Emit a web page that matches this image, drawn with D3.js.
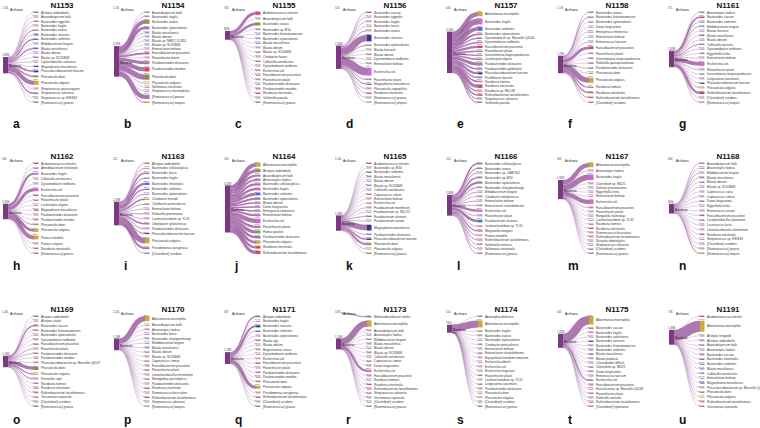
<!DOCTYPE html>
<html><head><meta charset="utf-8">
<script src="https://cdn.jsdelivr.net/npm/d3@7"></script>
<style>body{margin:0;background:#fff}svg{display:block;font-family:"Liberation Sans",Arial,sans-serif}</style>
</head><body><svg id="c" width="760" height="428"></svg>
<script>
const sampleIds = ["N1153","N1154","N1155","N1156","N1157","N1158","N1161","N1162","N1163","N1164","N1165","N1166","N1167","N1168","N1169","N1170","N1171","N1173","N1174","N1175","N1191"];
const panelLetters = ["a","b","c","d","e","f","g","h","i","j","k","l","m","n","o","p","q","r","s","t","u"];
const archaeaReads = [1100,1110,700,524,434,1170,471,160,241,103,1100,154,304,864,1440,2250,337,147000,102,405,736];
const archaeaSpecies = ["Methanobrevibacter smithii"];

// species per sample (reads in thousands)
const speciesNames = [
["Alistipes onderdonkii","Anaerobutyricum hallii","Bacteroides eggerthii","Bacteroides fragilis","Bacteroides ovatus","Bacteroides stercoris","Bacteroides uniformis","Bifidobacterium longum","Blautia massiliensis","Blautia obeum","Blautia sp. SC05B48","Ligilactobacillus salivarius","Megasphaera massiliensis","Phascolarctobacterium faecium","Phocaeicola dorei","Phocaeicola vulgatus","Streptococcus parasanguinis","Streptococcus salivarius","Streptococcus sp. HSISS4","[Ruminococcus] gnavus"],
["Anaerobutyricum hallii","Bacteroides fragilis","Bacteroides ovatus","Bacteroides xylanisolvens","Blautia massiliensis","Blautia obeum","Blautia sp. NBRC 113351","Blautia sp. SC05B48","Enterocloster bolteae","Faecalibacterium prausnitzii","Flavonifractor plautii","Parabacteroides distasonis","Parabacteroides merdae","Phocaeicola dorei","Phocaeicola vulgatus","Sellimonas intestinalis","Streptococcus thermophilus","[Ruminococcus] gnavus","[Ruminococcus] torques"],
["Acidaminococcus intestini","Anaerobutyricum hallii","Bacteroides ovatus","Bacteroides sp. M10","Bacteroides thetaiotaomicron","Bacteroides xylanisolvens","Blautia massiliensis","Blautia obeum","Blautia sp. SC05B48","Citrobacter koseri","Collinsella aerofaciens","Dysosmobacter welbionis","Escherichia coli","Faecalibacterium prausnitzii","Flavonifractor plautii","Parabacteroides distasonis","Parabacteroides merdae","Roseburia intestinalis","Veillonella parvula","[Ruminococcus] gnavus"],
["Bacteroides caccae","Bacteroides eggerthii","Bacteroides fragilis","Bacteroides faecis","Bacteroides ovatus","Bacteroides stercoris","Bacteroides xylanisolvens","Blautia hansenii","Blautia obeum","Dysosmobacter welbionis","Enterocloster bolteae","Escherichia coli","Flavonifractor plautii","Megasphaera massiliensis","Phocaeicola coprophilus","Roseburia intestinalis","[Ruminococcus] gnavus","[Ruminococcus] torques"],
["Akkermansia muciniphila","Bacteroides fragilis","Bacteroides uniformis","Bacteroides xylanisolvens","Dysosmobacter sp. Marseille-Q4140","Dysosmobacter welbionis","Faecalibacterium prausnitzii","Flavonifractor plautii","Intestinimonas butyriciproducens","Lachnospira eligens","Parabacteroides distasonis","Parabacteroides goldsteinii","Phascolarctobacterium faecium","Pusillibacter faecalis","Roseburia hominis","Roseburia intestinalis","Roseburia sp. NSJ-69","Ruthenibacterium lactatiformans","Streptococcus salivarius","Veillonella parvula"],
["Bacteroides ovatus","Bacteroides thetaiotaomicron","Bacteroides xylanisolvens","Dorea longicatena","Emergencia timonensis","Enterocloster bolteae","Enterococcus faecium","Faecalibacterium prausnitzii","Flavonifractor plautii","Intestinimonas butyriciproducens","Klebsiella quasipneumoniae","Parabacteroides distasonis","Phocaeicola dorei","Phocaeicola vulgatus","Roseburia hominis","Roseburia intestinalis","Ruthenibacterium lactatiformans","[Clostridium] scindens"],
["Anaerostipes hadrus","Bacteroides caccae","Bacteroides uniformis","Bifidobacterium longum","Blautia hansenii","Blautia massiliensis","Blautia obeum","Collinsella stercoris","Dysosmobacter welbionis","Eggerthella lenta","Enterocloster bolteae","Escherichia coli","Flavonifractor plautii","Intestinimonas butyriciproducens","Longicatena caecimuris","Phascolarctobacterium faecium","Phocaeicola vulgatus","Ruthenibacterium lactatiformans","[Clostridium] scindens","[Ruminococcus] torques"],
["Acidaminococcus intestini","Amedibacterium intestinale","Bacteroides fragilis","Collinsella aerofaciens","Dysosmobacter welbionis","Escherichia coli","Faecalibacterium prausnitzii","Flavonifractor plautii","Lachnospira eligens","Megasphaera massiliensis","Parabacteroides distasonis","Parabacteroides merdae","Phocaeicola dorei","Phocaeicola vulgatus","Proteus mirabilis","Proteus vulgaris","Roseburia intestinalis","[Ruminococcus] gnavus"],
["Alistipes onderdonkii","Bacteroides cellulosilyticus","Bacteroides faecis","Bacteroides fragilis","Bacteroides intestinalis","Bacteroides uniformis","Bacteroides xylanisolvens","Citrobacter freundii","Citrobacter portucalensis","Enterocloster bolteae","Klebsiella pneumoniae","Lachnoclostridium sp. YL32","Odoribacter splanchnicus","Parabacteroides distasonis","Phascolarctobacterium faecium","Phocaeicola vulgatus","Pseudomonas aeruginosa","[Clostridium] scindens"],
["Akkermansia muciniphila","Alistipes onderdonkii","Anaerobutyricum hallii","Anaerostipes hadrus","Bacteroides cellulosilyticus","Bacteroides fragilis","Bacteroides uniformis","Bacteroides xylanisolvens","Blautia obeum","Dorea longicatena","Emergencia timonensis","Enterocloster bolteae","Escherichia coli","Flavonifractor plautii","Hafnia paralvei","Parabacteroides distasonis","Phocaeicola vulgatus","Roseburia intestinalis","Ruthenibacterium lactatiformans"],
["Acidaminococcus intestini","Bacteroides sp. M10","Bacteroides uniformis","Blautia massiliensis","Blautia obeum","Blautia sp. SC05B48","Collinsella aerofaciens","Coprococcus comes","Enterocloster bolteae","Escherichia coli","Fusobacterium mortiferum","Fusobacterium sp. NSJ-57","Fusobacterium ulcerans","Fusobacterium varium","Megasphaera massiliensis","Parabacteroides distasonis","Phascolarctobacterium faecium","Phocaeicola dorei","Phocaeicola vulgatus","[Ruminococcus] gnavus"],
["Bacteroides cellulosilyticus","Bacteroides ovatus","Bacteroides sp. CBA7301","Bacteroides sp. M10","Bacteroides xylanisolvens","Bacteroides zhangwenhongii","Bifidobacterium longum","Citrobacter amalonaticus","Enterocloster bolteae","Enterocloster clostridioformis","Escherichia coli","Flavonifractor plautii","Fusobacterium ulcerans","Lachnoclostridium sp. YL32","Morganella morganii","Proteus mirabilis","Ruthenibacterium lactatiformans","Salmonella enterica","Sellimonas intestinalis","[Ruminococcus] gnavus"],
["Akkermansia muciniphila","Anaerostipes hadrus","Bacteroides fragilis","Clostridium sp. M62/1","Dialister pneumosintes","Eggerthella lenta","Enterocloster bolteae","Escherichia coli","Faecalibacterium prausnitzii","Flavonifractor plautii","Hungatella hathewayi","Lachnoclostridium sp. YL32","Roseburia hominis","Roseburia intestinalis","Ruminococcus bicirculans","Ruthenibacterium lactatiformans","Schaalia odontolytica","Streptococcus salivarius","[Clostridium] scindens","[Ruminococcus] gnavus"],
["Anaerobutyricum hallii","Anaerostipes hadrus","Bifidobacterium longum","Blautia massiliensis","Blautia obeum","Blautia sp. SC05B48","Coprococcus catus","Coprococcus comes","Dorea longicatena","Eggerthella lenta","Enterococcus avium","Faecalibacterium prausnitzii","Lactiplantibacillus plantarum","Lactococcus lactis","Limosilactobacillus fermentum","Roseburia intestinalis","Streptococcus sp. HSISS3","[Clostridium] scindens","[Ruminococcus] gnavus","[Ruminococcus] torques"],
["Alistipes onderdonkii","Alistipes shahii","Bacteroides caccae","Bacteroides thetaiotaomicron","Bacteroides xylanisolvens","Dysosmobacter welbionis","Faecalibacterium prausnitzii","Flavonifractor plautii","Parabacteroides distasonis","Parabacteroides merdae","Phascolarctobacterium sp. Marseille-Q4147","Phocaeicola dorei","Phocaeicola vulgatus","Prevotella copri","Roseburia hominis","Roseburia intestinalis","Ruthenibacterium lactatiformans","Vescimonas coprocola","[Clostridium] scindens","[Ruminococcus] gnavus"],
["Akkermansia muciniphila","Anaerobutyricum hallii","Anaerostipes hadrus","Bacteroides faecis","Bacteroides zhangwenhongii","Bifidobacterium longum","Blautia massiliensis","Blautia obeum","Blautia sp. SC05B48","Coprococcus comes","Faecalibacterium prausnitzii","Flavonifractor plautii","Limosilactobacillus fermentum","Monoglobus pectinilyticus","Parabacteroides distasonis","Roseburia intestinalis","Ruminococcus bicirculans","Ruthenibacterium lactatiformans","Streptococcus salivarius","[Ruminococcus] torques"],
["Alistipes onderdonkii","Bacteroides fragilis","Bacteroides stercoris","Bacteroides uniformis","Bacteroides xylanisolvens","Blautia argi","Blautia obeum","Butyricimonas virosa","Dysosmobacter welbionis","Escherichia coli","Faecalibacterium prausnitzii","Flavonifractor plautii","Parabacteroides distasonis","Parabacteroides merdae","Phocaeicola dorei","Phocaeicola vulgatus","Pseudomonas aeruginosa","Ruthenibacterium lactatiformans","[Clostridium] scindens","[Ruminococcus] gnavus"],
["Methanobrevibacter smithii","Akkermansia muciniphila","Anaerobutyricum hallii","Anaerostipes hadrus","Bifidobacterium longum","Blautia massiliensis","Blautia obeum","Blautia sp. SC05B48","Collinsella aerofaciens","Coprococcus comes","Dorea longicatena","Escherichia coli","Faecalibacterium prausnitzii","Roseburia hominis","Roseburia intestinalis","Ruthenibacterium lactatiformans","Streptococcus salivarius","Vescimonas coprocola","[Clostridium] scindens","[Ruminococcus] gnavus"],
["Abiotrophia defectiva","Akkermansia muciniphila","Bacteroides fragilis","Bacteroides ovatus","Bacteroides xylanisolvens","Citrobacter portucalensis","Enterocloster bolteae","Enterocloster clostridioformis","Erysipelatoclostridium ramosum","Escherichia albertii","Escherichia coli","Escherichia fergusonii","Flavonifractor plautii","Lachnoclostridium sp. YL32","Longicatena caecimuris","Parabacteroides distasonis","Phocaeicola dorei","Phocaeicola vulgatus","[Clostridium] scindens","[Ruminococcus] gnavus"],
["Akkermansia muciniphila","Bacteroides caccae","Bacteroides fragilis","Bacteroides salanitronis","Bacteroides stercoris","Bacteroides thetaiotaomicron","Bacteroides uniformis","Blautia massiliensis","Blautia producta","Clostridioides difficile","Clostridium sp. M62/1","Dorea longicatena","Enterococcus faecium","Escherichia coli","Faecalibacterium prausnitzii","Faecalicatena sp. Marseille-Q4148","Flavonifractor plautii","Klebsiella variicola","Ruthenibacterium lactatiformans","[Clostridium] hylemonae"],
["Acidaminococcus intestini","Akkermansia muciniphila","Alistipes finegoldii","Alistipes onderdonkii","Anaerobutyricum hallii","Anaerostipes hadrus","Bacteroides caccae","Bacteroides intestinalis","Bacteroides uniformis","Blautia massiliensis","Collinsella aerofaciens","Enterocloster bolteae","Megasphaera massiliensis","Phascolarctobacterium sp. Marseille-Q4147","Phocaeicola dorei","Phocaeicola vulgatus","Ruthenibacterium lactatiformans","Vescimonas coprocola"]
];
const speciesReadsK = [
[20,30,40,50,90,45,110,30,120,25,25,50,30,180,140,420,40,120,35,30],
[40,60,380,250,50,40,45,40,50,180,40,300,420,520,60,40,50,420,80],
[280,30,260,15,20,18,25,15,20,12,20,15,25,30,15,20,18,20,15,12],
[60,50,60,40,80,650,90,30,30,40,35,780,80,100,60,50,60,40],
[420,560,380,180,120,150,220,150,120,150,300,150,200,120,150,300,120,150,100,100],
[60,80,40,40,50,40,60,280,40,30,30,60,50,520,130,120,80,40],
[50,160,60,70,40,50,40,90,50,40,50,380,60,40,40,50,60,220,50,50],
[30,20,200,30,25,300,25,20,20,25,20,30,80,280,380,20,20,20],
[60,70,150,90,230,120,80,150,70,60,80,60,150,90,100,550,200,60],
[380,300,200,180,220,240,260,200,160,150,160,200,450,240,300,260,280,240,300],
[25,25,30,25,20,25,25,20,25,40,60,30,80,60,560,60,150,180,60,30],
[150,100,80,140,180,100,70,60,70,60,220,60,260,60,120,80,80,60,60,70],
[420,50,560,30,25,25,40,420,60,30,25,25,30,30,25,30,20,25,20,20],
[60,50,70,50,40,45,40,50,45,35,40,45,40,45,40,45,40,45,50,90],
[20,20,120,30,25,20,25,70,60,40,40,320,120,100,20,20,25,20,20,25],
[520,40,40,35,35,40,40,30,30,30,40,30,30,30,40,30,30,30,35,40],
[120,40,200,60,40,25,25,30,25,30,30,25,40,30,40,300,40,30,25,30],
[147,600,20,20,20,20,15,15,15,15,15,220,15,15,15,15,15,15,15,15],
[10,700,5,5,4,4,5,4,4,5,10,5,4,4,4,5,6,5,4,4],
[850,20,25,15,20,20,25,20,20,25,20,20,30,120,40,25,20,40,30,20],
[20,1100,25,25,25,20,25,20,25,20,20,20,25,20,20,40,20,20]
];

const highlightSpecies = ["Akkermansia muciniphila","Phocaeicola vulgatus","Proteus mirabilis","Citrobacter freundii","[Ruminococcus] torques",
  "Escherichia coli","Bacteroides fragilis",
  "Bacteroides stercoris","Megasphaera massiliensis","Phascolarctobacterium faecium",
  "Bacteroides uniformis","Bacteroides intestinalis","Fusobacterium ulcerans","Blautia massiliensis",
  "Parabacteroides merdae","Acidaminococcus intestini","Faecalibacterium prausnitzii","Bacteroides caccae","Ruthenibacterium lactatiformans","Roseburia intestinalis","Morganella morganii",
  "Bacteroides ovatus","Hafnia paralvei",
  "Phocaeicola dorei","Alistipes onderdonkii"];
const gold="#cfa93c", pink="#d765d6", navy="#2e3791", blue="#5a6ad8", red="#dc4458", green="#79a23b", olive="#9b8445";
const highlightColors = [gold,gold,gold,gold,gold,pink,pink,navy,navy,navy,blue,blue,blue,blue,red,red,red,red,red,red,red,green,green,olive,olive];

const speciesColor = d3.scaleOrdinal().domain(highlightSpecies).range(highlightColors).unknown("#a878ad");
const px = d3.scaleLinear().domain([0,1000]).range([0,10]); // thousand reads -> pixels
const fmt = d3.format(".3s");
const fmtReads = k => fmt(k*1000).replace("G","B");
const linkGen = d3.linkHorizontal().x(d=>d[0]).y(d=>d[1]);

const svg = d3.select("#c");
const titleBase = [8,159,312], letterBase = [128,270,424];

sampleIds.forEach((id, i) => {
  const col = i % 7, row = Math.floor(i/7);
  const x0 = 3 + col*111, T = titleBase[row];
  const g = svg.append("g");
  const names = speciesNames[i], reads = speciesReadsK[i];
  const n = names.length;
  const hs = reads.map(v => Math.max(px(v), 1));
  const top = T + 4, span = 91;
  const gap = (span - d3.sum(hs)) / (n - 1);
  let yy = top;
  const leaves = names.map((nm, j) => {
    const o = {name: nm, v: reads[j], y0: yy, h: hs[j], arch: archaeaSpecies.includes(nm)};
    o.cy = yy + hs[j]/2; yy += hs[j] + gap; return o;
  });
  const bact = leaves.filter(l => !l.arch);
  const total = d3.sum(bact, l => l.v);
  const rootH = px(total);
  const rootMid = d3.sum(bact, l => l.v*l.cy) / total;
  const rootTop = rootMid - rootH/2;
  const leafX = x0 + 31, leafW = 4.5, rootW = 5;

  // links
  let acc = rootTop;
  const links = g.append("g").attr("fill","none");
  bact.forEach(l => {
    const w = px(l.v);
    const sy = acc + w/2; acc += w;
    links.append("path").attr("d", linkGen({source:[x0+rootW, sy], target:[leafX, l.cy]}))
      .attr("stroke","#8b4591").attr("stroke-opacity",0.72).attr("stroke-width", Math.max(w,0.35));
  });
  leaves.filter(l => l.arch).forEach(l => {
    links.append("path").attr("d", linkGen({source:[x0+rootW, T+1], target:[leafX, l.cy]}))
      .attr("stroke","#8b4591").attr("stroke-opacity",0.55).attr("stroke-width", Math.max(px(l.v),0.35));
  });

  // root node
  g.append("rect").attr("x",x0).attr("y",rootTop).attr("width",rootW).attr("height",rootH).attr("fill","#7a3a81");
  g.append("text").attr("x",x0-1).attr("y",rootTop-0.8).attr("font-size",2.6).attr("fill","#444").text(fmtReads(total));
  g.append("text").attr("x",x0+6).attr("y",rootMid+2.2).attr("font-size",3.4).attr("fill","#222").text("Bacteria");

  // archaea
  g.append("text").attr("x",x0-1).attr("y",T+1).attr("font-size",2.6).attr("fill","#444").text(fmtReads(archaeaReads[i]/1000));
  g.append("text").attr("x",x0+7).attr("y",T+3).attr("font-size",3.4).attr("fill","#222").text("Archaea");

  // leaves
  leaves.forEach(l => {
    g.append("rect").attr("x",leafX).attr("y",l.y0).attr("width",leafW).attr("height",l.h).attr("fill",speciesColor(l.name));
    g.append("text").attr("x",leafX+leafW/2-1).attr("y",l.y0-0.3).attr("text-anchor","middle").attr("font-size",2.3).attr("fill","#555").text(fmtReads(l.v));
    g.append("text").attr("x",x0+38).attr("y",l.cy+1.05).attr("font-size",3.05).attr("fill","#333").text(l.name);
  });

  // title and letter
  g.append("text").attr("x",x0+59).attr("y",T).attr("text-anchor","middle").attr("font-size",8).attr("font-weight","bold").attr("fill","#111").text(id);
  g.append("text").attr("x",x0+10).attr("y",letterBase[row]).attr("font-size",12).attr("font-weight","bold").attr("fill","#111").text(panelLetters[i]);
});
</script></body></html>
